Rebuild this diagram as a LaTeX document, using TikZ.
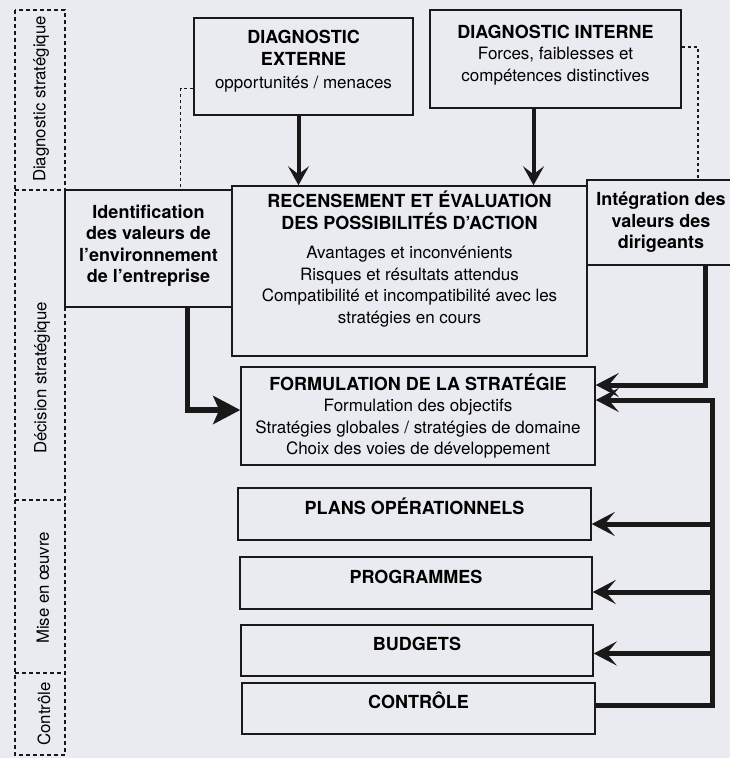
\documentclass[tikz,border=0pt]{standalone}
\usepackage{fontspec}
\setmainfont{TeX Gyre Heros}
\usetikzlibrary{arrows.meta}
\definecolor{paper}{RGB}{233,235,240}
\definecolor{ink}{RGB}{25,25,25}
\newcommand\hd[1]{{\fontsize{18}{21.5}\selectfont\bfseries #1}}
\tikzset{
  box/.style={draw=ink, line width=1.5pt, align=center, inner sep=2pt,
    font=\fontsize{17}{21.5}\selectfont},
  small/.style={box, text height=12pt, text depth=12pt},
  side/.style={rotate=90, font=\fontsize{16.8}{20}\selectfont},
  col/.style={draw=ink, line width=1.4pt, dash pattern=on 4pt off 3pt},
  link/.style={draw=ink, line width=1.5pt, dash pattern=on 3.5pt off 2.5pt},
  down/.style={draw=ink, line width=4pt, -{Stealth[length=19pt,width=21pt,inset=8pt]}},
  big/.style={draw=ink, line width=5.5pt, line join=miter, -{Stealth[length=27pt,width=28pt,inset=6pt]}},
  back/.style={draw=ink, line width=5pt, -{Stealth[length=23pt,width=24pt,inset=10pt]}},
}
\begin{document}
\begin{tikzpicture}[x=1pt,y=-1pt]
  \useasboundingbox[fill=paper] (0,0) rectangle (730,758);
  \clip (0,0) rectangle (730,758);

  % phases on the left
  \draw[col] (15,10) rectangle (65,755);
  \draw[col] (15,190) -- (65,190);
  \draw[col] (15,500) -- (65,500);
  \draw[col] (15,673) -- (65,673);
  \node[side] (diag) at (41,99) {Diagnostic stratégique};
  \node[side] (dec) at (42,378) {Décision stratégique};
  \node[side] (mise) at (43,588) {Mise en œuvre};
  \node[side] (con) at (44,714) {Contrôle};

  % boxes
  \node[box, minimum width=219pt, minimum height=97pt, text depth=13.6pt] (ext) at (303.5,66.5)
    {\hd{DIAGNOSTIC}\\\hd{EXTERNE}\\[2pt]opportunités / menaces};
  \node[box, minimum width=251pt, minimum height=98pt, text depth=11.6pt] (int) at (555.5,59)
    {\hd{DIAGNOSTIC INTERNE}\\Forces, faiblesses et\\compétences distinctives};
  \node[box, minimum width=167pt, minimum height=117pt, text depth=9.8pt] (ident) at (148.5,248.5)
    {\hd{Identification}\\\hd{des valeurs de}\\\hd{l’environnement}\\\hd{de l’entreprise}};
  \node[box, minimum width=355pt, minimum height=170pt, text depth=28pt] (rec) at (409.5,271)
    {\hd{RECENSEMENT ET ÉVALUATION}\\\hd{DES POSSIBILITÉS D'ACTION}\\[8pt]
     Avantages et inconvénients\\Risques et résultats attendus\\
     Compatibilité et incompatibilité avec les\\stratégies en cours};
  \node[box, minimum width=148pt, minimum height=85pt] (integ) at (661,222.5)
    {\hd{Intégration des}\\\hd{valeurs des}\\\hd{dirigeants}};
  \node[box, minimum width=354pt, minimum height=98pt] (form) at (418,416)
    {\hd{FORMULATION DE LA STRATÉGIE}\\Formulation des objectifs\\
     Stratégies globales / stratégies de domaine\\Choix des voies de développement};
  \node[small, minimum width=353pt, minimum height=52pt] (plans) at (414.5,514) {\hd{PLANS OPÉRATIONNELS}};
  \node[small, minimum width=352pt, minimum height=52pt] (prog) at (416,583) {\hd{PROGRAMMES}};
  \node[small, minimum width=352pt, minimum height=51pt] (budg) at (417,650.5) {\hd{BUDGETS}};
  \node[small, minimum width=353pt, minimum height=51pt] (ctrl) at (418.5,708.5) {\hd{CONTRÔLE}};

  % dashed links
  \draw[link] ([yshift=-22pt]ext.west) -| ([xshift=32pt]ident.north);
  \draw[link] ([yshift=12pt]int.east) -| ([xshift=37pt]integ.north);

  % arrows
  \draw[down] ([xshift=-5pt]ext.south) -- ([xshift=-5pt]ext.south |- rec.north);
  \draw[down] ([xshift=-22pt]int.south) -- ([xshift=-22pt]int.south |- rec.north);
  \draw[big] ([xshift=39pt]ident.south) |- ([yshift=6pt]form.west);
  \draw[back] ([xshift=44pt]integ.south) |- ([yshift=31pt]form.east);

  % feedback from control
  \coordinate (fb) at (712,400);
  \draw[back] ([yshift=3pt]ctrl.east) -| (fb) -- (fb -| form.east);
  \draw[back] ([yshift=-10pt]plans.east -| fb) -- ([yshift=-10pt]plans.east);
  \draw[back] ([yshift=-9pt]prog.east -| fb) -- ([yshift=-9pt]prog.east);
  \draw[back] ([yshift=-3pt]budg.east -| fb) -- ([yshift=-3pt]budg.east);
\end{tikzpicture}
\end{document}
